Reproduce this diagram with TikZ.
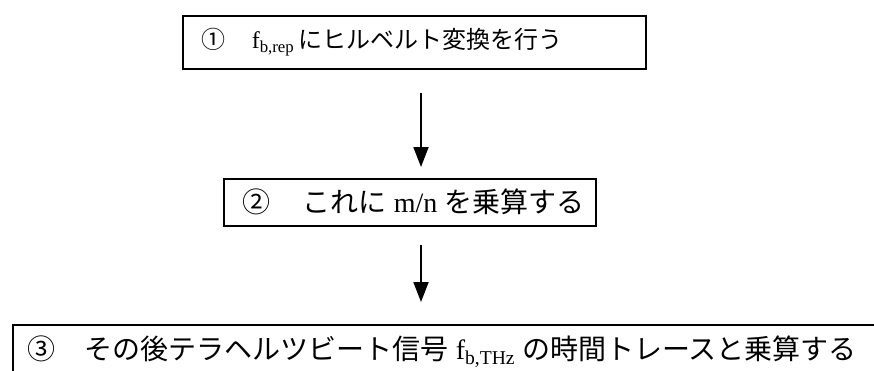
\documentclass[tikz,border=0pt]{standalone}
\usepackage{fontspec}
\setmainfont{Liberation Serif}
\newfontfamily\cjk{Noto Sans CJK JP}
\usetikzlibrary{arrows.meta}
\begin{document}
\begin{tikzpicture}[x=1pt,y=1pt,
  box/.style={draw=black, line width=1.6pt, anchor=north west, inner xsep=19pt, inner ysep=0pt, align=left},
  arr/.style={line width=1.8pt, -{Triangle[width=15pt,length=20pt]}}]
\useasboundingbox (0,0) rectangle (874,-370);
\clip (0,0) rectangle (874,-370);
\fill[white] (0,0) rectangle (874,-370);
\node[box, minimum height=53pt, font=\fontsize{24pt}{28pt}\selectfont] (b1) at (182,-15)
  {\makebox[425pt][l]{{\cjk ①}\hspace{26pt}f\textsubscript{b,rep}\,{\cjk にヒルベルト変換を行う}}};
\node[box, minimum height=47pt, font=\fontsize{28pt}{32pt}\selectfont] (b2) at (223,-178)
  {\makebox[334pt][l]{{\cjk ②}\hspace{32pt}{\cjk これに} m/n {\cjk を乗算する}}};
\node[box, inner xsep=15pt, minimum height=54pt, font=\fontsize{28pt}{32pt}\selectfont] (b3) at (12,-324)
  {\makebox[880pt][l]{{\cjk ③}\hspace{29pt}{\cjk その後テラヘルツビート信号} f\textsubscript{b,THz} {\cjk の時間トレースと乗算する}}};
\coordinate (a1s) at (421,-93);
\coordinate (a1e) at (421,-167);
\coordinate (a2s) at (421,-245);
\coordinate (a2e) at (421,-302);
\draw[arr] (a1s) -- (a1e);
\draw[arr] (a2s) -- (a2e);
\end{tikzpicture}
\end{document}
